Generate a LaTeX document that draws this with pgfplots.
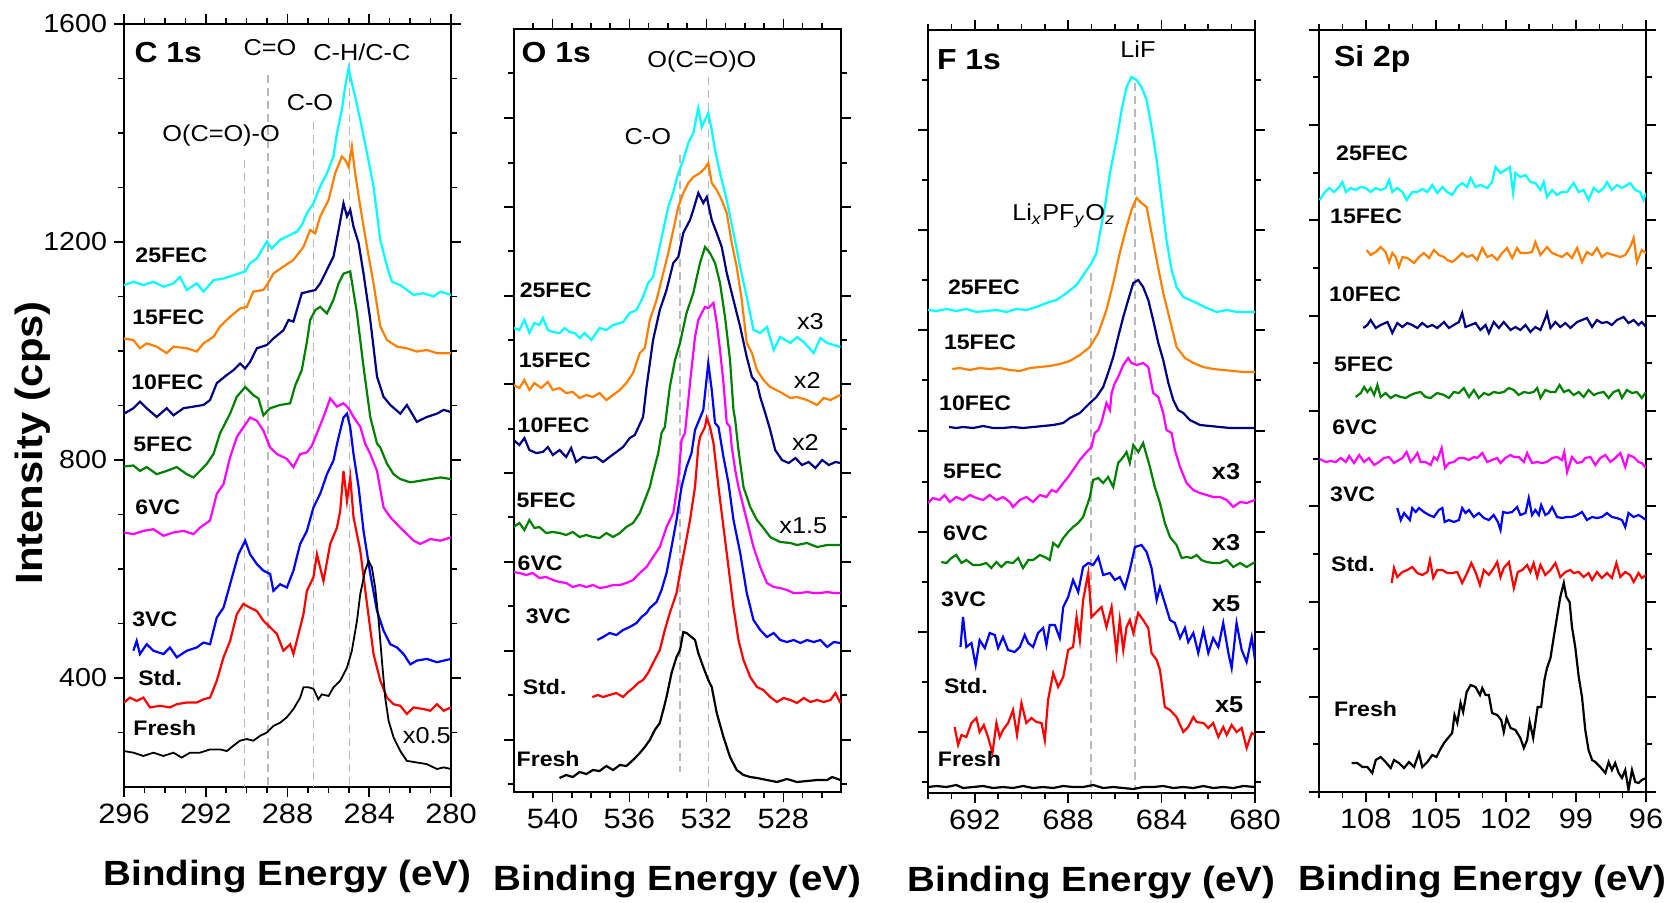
\documentclass[border=0pt]{standalone}
\usepackage{fontspec}
\setmainfont{Liberation Sans}[FakeStretch=1.1]
\usepackage{pgfplots}
\pgfplotsset{compat=1.18}

\definecolor{cCy}{RGB}{0,255,255}
\definecolor{cOr}{RGB}{255,128,0}
\definecolor{cNv}{RGB}{0,0,128}
\definecolor{cGr}{RGB}{0,128,0}
\definecolor{cMg}{RGB}{255,0,255}
\definecolor{cBl}{RGB}{0,0,255}
\definecolor{cRd}{RGB}{255,0,0}

\tikzset{
  lab/.style={font=\fontsize{10.5}{12}\selectfont\bfseries, anchor=west, inner sep=0pt},
  pk/.style={font=\fontsize{11.5}{13}\selectfont, inner sep=0pt},
  pkb/.style={font=\fontsize{11.5}{13}\selectfont\bfseries, inner sep=0pt},
  ttl/.style={font=\fontsize{14.5}{16}\selectfont\bfseries, anchor=west, inner sep=0pt},
  dl/.style={gray!55, line width=0.7pt, dash pattern=on 4pt off 2.5pt},
}

\pgfplotsset{
  xps/.style={
    scale only axis, width=163.5pt, height=381.5pt,
    anchor=south west,
    x dir=reverse,
    axis line style={line width=0.9pt},
    tick align=outside, tick pos=both,
    major tick length=5pt, minor tick length=3pt,
    every tick/.style={black, line width=0.8pt},
    /pgf/number format/assume math mode=true,
    /pgf/number format/1000 sep={},
    xticklabel style={font=\fontsize{14}{16}\selectfont},
    yticklabel style={font=\fontsize{13}{15}\selectfont},
    xlabel={Binding Energy (eV)},
    xlabel style={font=\fontsize{17.5}{20}\selectfont\bfseries, at={(axis description cs:0.5,-0.117)}, anchor=center},
    every axis plot/.append style={line width=1.1pt, mark=none},
  },
  nolab/.style={yticklabels={}},
}

\begin{document}
\begin{tikzpicture}
\path[use as bounding box] (0,0) rectangle (839.5pt,451pt);

% ---------------- C 1s ----------------
\begin{axis}[xps, at={(62pt,57.5pt)},
  xmin=280, xmax=296, ymin=200, ymax=1600,
  xtick={296,292,288,284,280}, minor x tick num=3,
  ytick={400,800,1200,1600}, minor ytick={300,500,600,700,900,1000,1100,1300,1400,1500},
  ylabel={Intensity (cps)},
  ylabel style={font=\fontsize{19}{22}\selectfont\bfseries, at={(axis description cs:-0.278,0.451)}, anchor=center},
]
\addplot[dl] coordinates {(290.1,1351) (290.1,200)};
\addplot[dl] coordinates {(288.96,1507) (288.96,200)};
\addplot[dl] coordinates {(286.73,1421) (286.73,200)};
\addplot[dl] coordinates {(284.98,1530) (284.98,200)};
% 25FEC
\addplot[cCy] coordinates {(296.00,1121)(295.54,1127)(295.05,1121)(294.56,1127)(294.07,1118)(293.58,1124)(293.26,1136)(292.93,1112)(292.44,1124)(292.11,1109)(291.62,1130)(291.13,1133)(290.64,1139)(290.07,1146)(289.83,1161)(289.50,1170)(289.01,1201)(288.77,1188)(288.36,1204)(287.87,1213)(287.54,1219)(287.30,1231)(287.05,1253)(286.73,1271)(286.40,1302)(286.07,1326)(285.75,1357)(285.58,1400)(285.34,1442)(285.18,1485)(285.01,1519)(284.85,1491)(284.69,1467)(284.44,1424)(284.11,1363)(283.79,1302)(283.46,1204)(283.13,1155)(282.89,1127)(282.48,1121)(281.83,1103)(281.34,1106)(280.85,1100)(280.52,1109)(280.00,1103)};
% 15FEC
\addplot[cOr] coordinates {(296.00,1023)(295.54,1020)(295.22,1005)(294.89,1014)(294.40,1008)(293.91,996)(293.58,1008)(292.93,1005)(292.44,999)(292.11,1014)(291.62,1026)(291.30,1045)(290.81,1063)(290.32,1078)(289.99,1081)(289.67,1109)(289.18,1112)(289.01,1121)(288.69,1142)(288.20,1155)(287.71,1167)(287.22,1191)(286.89,1222)(286.64,1216)(286.40,1247)(285.99,1277)(285.67,1326)(285.34,1357)(285.18,1351)(285.01,1338)(284.85,1375)(284.69,1326)(284.44,1265)(284.11,1191)(283.79,1124)(283.46,1045)(283.13,1020)(282.64,1008)(282.16,1005)(281.67,999)(281.18,1002)(280.69,996)(280.00,996)};
% 10FEC
\addplot[cNv] coordinates {(296.00,885)(295.54,895)(295.22,907)(294.89,895)(294.40,879)(293.91,895)(293.58,882)(293.09,895)(292.60,898)(292.11,901)(291.79,910)(291.46,941)(290.97,956)(290.64,965)(290.32,977)(290.07,968)(289.83,980)(289.50,1005)(289.01,1011)(288.69,1023)(288.20,1038)(287.95,1057)(287.71,1054)(287.30,1106)(286.97,1109)(286.64,1112)(286.40,1124)(286.07,1149)(285.75,1173)(285.50,1222)(285.26,1271)(285.09,1247)(284.93,1259)(284.77,1228)(284.52,1198)(284.28,1142)(283.95,1057)(283.62,953)(283.30,916)(282.97,901)(282.48,885)(282.16,901)(281.67,870)(281.18,879)(280.69,885)(280.36,892)(280.00,888)};
% 5FEC
\addplot[cGr] coordinates {(296.00,788)(295.54,790)(295.22,780)(294.89,787)(294.40,774)(293.91,780)(293.42,787)(292.93,774)(292.60,768)(292.28,780)(291.95,793)(291.62,811)(291.30,849)(290.81,885)(290.48,916)(290.07,934)(289.67,919)(289.42,913)(289.18,882)(288.85,895)(288.36,901)(287.87,904)(287.62,937)(287.30,965)(287.05,1017)(286.89,1057)(286.64,1075)(286.40,1081)(286.07,1069)(285.75,1094)(285.50,1124)(285.26,1142)(284.93,1146)(284.60,1069)(284.28,971)(283.95,879)(283.62,830)(283.46,823)(283.13,793)(282.81,774)(282.48,765)(281.99,759)(281.50,762)(281.01,765)(280.52,768)(280.00,765)};
% 6VC
\addplot[cMg] coordinates {(296.00,667)(295.54,664)(295.05,670)(294.56,673)(294.07,661)(293.58,667)(293.09,670)(292.60,664)(292.28,676)(291.79,689)(291.46,738)(291.13,756)(290.81,805)(290.48,842)(290.16,860)(289.83,878)(289.50,872)(289.18,854)(288.85,823)(288.52,811)(288.03,802)(287.71,787)(287.38,811)(287.05,814)(286.81,826)(286.56,849)(286.24,879)(285.91,913)(285.58,898)(285.26,904)(285.01,895)(284.77,879)(284.44,861)(284.20,830)(283.95,811)(283.62,780)(283.30,713)(282.97,695)(282.64,682)(282.32,670)(281.83,652)(281.50,646)(281.01,655)(280.52,652)(280.00,658)};
% 3VC
\addplot[cBl] coordinates {(295.54,450)(295.38,468)(295.22,444)(294.89,462)(294.56,450)(294.07,444)(293.75,456)(293.42,438)(292.93,450)(292.44,456)(292.11,465)(291.79,462)(291.46,511)(291.13,529)(290.81,572)(290.40,627)(290.07,652)(289.83,627)(289.50,609)(289.18,597)(288.85,591)(288.69,560)(288.36,572)(288.03,566)(287.71,597)(287.38,646)(287.05,670)(286.73,713)(286.40,738)(286.07,774)(285.75,799)(285.58,829)(285.42,854)(285.26,878)(285.09,885)(284.93,860)(284.77,811)(284.52,750)(284.28,670)(283.95,591)(283.62,523)(283.30,487)(282.97,462)(282.64,456)(282.32,444)(281.99,425)(281.67,432)(281.18,435)(280.69,429)(280.00,435)};
% Std.
\addplot[cRd] coordinates {(296.00,355)(295.71,364)(295.38,358)(295.05,364)(294.73,346)(294.24,349)(293.75,346)(293.42,352)(292.93,355)(292.44,355)(292.11,361)(291.79,364)(291.46,395)(291.13,438)(290.81,468)(290.48,517)(290.16,536)(289.83,529)(289.50,523)(289.18,505)(288.85,493)(288.52,481)(288.20,450)(287.87,462)(287.71,444)(287.38,493)(287.22,517)(287.05,560)(286.73,585)(286.56,627)(286.24,578)(285.91,646)(285.58,676)(285.42,707)(285.26,780)(285.09,725)(284.93,768)(284.77,695)(284.44,634)(284.11,536)(283.79,444)(283.46,395)(283.13,364)(282.81,352)(282.48,349)(282.16,334)(281.83,346)(281.34,343)(281.01,340)(280.69,352)(280.36,340)(280.00,346)};
% Fresh
\addplot[black, line width=0.9pt] coordinates {(296.00,266)(295.54,263)(295.05,257)(294.56,263)(294.07,257)(293.58,263)(293.18,254)(292.77,263)(292.28,263)(291.79,269)(291.30,269)(290.97,266)(290.64,276)(290.32,285)(289.99,288)(289.67,285)(289.34,294)(289.01,300)(288.69,312)(288.36,318)(288.03,328)(287.71,343)(287.38,364)(287.22,383)(286.97,383)(286.73,380)(286.49,361)(286.32,370)(285.99,367)(285.75,383)(285.42,395)(285.09,419)(284.85,450)(284.60,505)(284.44,554)(284.20,597)(284.03,615)(283.87,603)(283.71,566)(283.54,505)(283.38,432)(283.22,364)(283.05,321)(282.81,291)(282.48,266)(282.16,248)(281.67,245)(281.18,242)(280.69,233)(280.36,236)(280.00,233)};
\node[ttl] at (axis cs:295.5,1547) {C 1s};
\node[pk] at (axis cs:288.86,1556) {C=O};
\node[pk] at (axis cs:284.36,1549) {C-H/C-C};
\node[pk] at (axis cs:286.90,1455) {C-O};
\node[pk] at (axis cs:291.25,1396) {O(C=O)-O};
\node[lab] at (axis cs:295.46,1176) {25FEC};
\node[lab] at (axis cs:295.61,1061) {15FEC};
\node[lab] at (axis cs:295.66,943) {10FEC};
\node[lab] at (axis cs:295.56,829) {5FEC};
\node[lab] at (axis cs:295.46,714) {6VC};
\node[lab] at (axis cs:295.61,508) {3VC};
\node[lab] at (axis cs:295.32,400) {Std.};
\node[lab] at (axis cs:295.56,308) {Fresh};
\node[pk] at (axis cs:281.18,295) {x0.5};
\end{axis}

% ---------------- O 1s ----------------
\begin{axis}[xps, nolab, at={(257pt,55pt)},
  xmin=525, xmax=542, ymin=0, ymax=763,
  xtick={540,536,532,528}, minor xtick={526,527,529,530,531,533,534,535,537,538,539,541},
  ytick={52,141,230,319,408,496,585,674}, minor ytick={8,97,186,275,363,452,541,629,719},
]
\addplot[dl] coordinates {(533.37,637) (533.37,20)};
\addplot[dl] coordinates {(531.90,715) (531.90,5)};
\addplot[cCy] coordinates {(542.02,464)(541.72,462)(541.46,472)(541.20,459)(540.94,469)(540.68,467)(540.50,474)(540.24,462)(539.98,460)(539.63,459)(539.37,464)(539.11,460)(538.85,459)(538.59,454)(538.33,459)(537.98,452)(537.55,464)(537.20,462)(536.85,467)(536.33,470)(535.98,479)(535.63,482)(535.29,495)(535.03,509)(534.77,515)(534.50,539)(534.24,562)(533.98,585)(533.72,600)(533.46,619)(533.20,632)(532.94,649)(532.68,659)(532.42,684)(532.24,665)(532.07,672)(531.90,679)(531.72,662)(531.55,642)(531.29,619)(530.94,592)(530.59,559)(530.24,525)(529.90,495)(529.55,462)(529.20,459)(528.85,465)(528.50,442)(528.16,455)(527.63,449)(527.29,455)(526.94,450)(526.42,439)(526.07,454)(525.72,449)(525.37,447)(525.03,445)};
\addplot[cOr] coordinates {(542.02,407)(541.72,404)(541.46,412)(541.20,402)(540.94,409)(540.59,404)(540.24,410)(539.98,402)(539.63,404)(539.29,399)(538.94,400)(538.59,394)(538.24,397)(537.90,395)(537.55,399)(537.20,392)(536.85,397)(536.50,402)(536.16,409)(535.81,419)(535.46,439)(535.20,444)(534.94,472)(534.59,492)(534.24,519)(533.98,539)(533.72,562)(533.46,585)(533.20,599)(532.94,609)(532.68,615)(532.33,619)(532.07,624)(531.90,629)(531.72,609)(531.46,602)(531.20,592)(530.94,579)(530.68,549)(530.42,525)(530.16,492)(529.90,449)(529.63,439)(529.37,422)(529.03,412)(528.68,405)(528.16,400)(527.63,394)(527.29,395)(526.77,392)(526.24,387)(525.90,394)(525.55,392)(525.03,397)};
\addplot[cNv] coordinates {(542.02,352)(541.72,347)(541.46,354)(541.20,342)(540.85,339)(540.50,340)(540.24,345)(539.98,337)(539.63,342)(539.29,335)(539.03,344)(538.77,330)(538.42,335)(538.07,334)(537.72,335)(537.37,330)(537.03,335)(536.68,340)(536.33,345)(535.98,354)(535.72,357)(535.29,375)(535.11,405)(534.77,452)(534.42,482)(534.07,502)(533.72,529)(533.46,535)(533.20,559)(532.85,572)(532.68,582)(532.42,599)(532.16,589)(531.98,595)(531.72,572)(531.46,559)(531.20,545)(530.94,519)(530.59,492)(530.24,465)(529.90,435)(529.63,415)(529.37,409)(529.20,395)(528.94,379)(528.68,362)(528.42,342)(528.07,332)(527.72,329)(527.37,334)(527.03,327)(526.68,330)(526.33,324)(525.98,332)(525.63,327)(525.29,330)(525.03,329)};
\addplot[cGr] coordinates {(542.02,265)(541.72,269)(541.46,262)(541.20,272)(540.94,264)(540.68,265)(540.33,259)(539.98,260)(539.63,259)(539.29,257)(538.94,260)(538.59,255)(538.24,257)(537.90,255)(537.55,254)(537.20,259)(536.85,255)(536.50,259)(536.16,265)(535.81,269)(535.46,279)(535.20,292)(534.94,305)(534.77,319)(534.50,339)(534.33,359)(534.16,365)(533.90,405)(533.63,432)(533.37,449)(533.03,479)(532.68,499)(532.33,529)(532.07,545)(531.81,539)(531.55,529)(531.29,509)(531.03,475)(530.77,432)(530.59,382)(530.50,372)(530.33,342)(530.07,305)(529.72,285)(529.37,272)(529.03,264)(528.68,255)(528.16,250)(527.63,249)(527.29,247)(526.77,249)(526.24,245)(525.72,247)(525.03,247)};
\addplot[cMg] coordinates {(542.02,220)(541.72,219)(541.37,217)(541.03,219)(540.68,214)(540.33,215)(539.98,212)(539.63,210)(539.29,209)(538.94,205)(538.59,207)(538.24,205)(537.90,207)(537.55,204)(537.20,205)(536.85,207)(536.50,207)(536.16,209)(535.81,212)(535.46,219)(535.11,225)(534.77,235)(534.42,245)(534.07,265)(533.72,279)(533.46,312)(533.29,352)(533.11,359)(532.85,409)(532.59,455)(532.42,472)(532.24,479)(532.07,485)(531.90,484)(531.63,489)(531.46,469)(531.29,442)(531.11,409)(530.94,369)(530.77,365)(530.68,345)(530.50,322)(530.33,305)(530.16,292)(529.90,272)(529.55,245)(529.20,225)(528.85,209)(528.50,205)(528.16,204)(527.81,202)(527.46,199)(527.11,199)(526.77,200)(526.42,199)(526.07,199)(525.72,200)(525.37,199)(525.03,199)};
\addplot[cBl] coordinates {(537.67,152)(537.37,155)(537.03,159)(536.68,157)(536.33,162)(535.98,165)(535.63,169)(535.37,175)(535.11,179)(534.94,184)(534.59,190)(534.33,202)(534.07,219)(533.81,245)(533.55,272)(533.29,305)(533.03,325)(532.77,339)(532.59,362)(532.16,382)(531.90,429)(531.72,402)(531.55,369)(531.37,365)(531.11,335)(530.85,309)(530.59,272)(530.24,239)(529.90,199)(529.55,172)(529.20,162)(528.85,155)(528.50,159)(528.16,152)(527.81,150)(527.46,152)(527.11,149)(526.77,152)(526.42,150)(526.07,152)(525.72,145)(525.37,150)(525.03,149)};
\addplot[cRd] coordinates {(537.93,95)(537.63,97)(537.37,95)(537.03,97)(536.68,99)(536.33,95)(536.07,100)(535.81,104)(535.55,109)(535.29,112)(535.03,119)(534.77,129)(534.42,142)(534.16,162)(533.90,179)(533.55,199)(533.37,219)(533.11,245)(532.85,272)(532.59,305)(532.42,345)(532.33,355)(532.07,365)(531.98,374)(531.81,365)(531.63,349)(531.37,305)(531.11,265)(530.85,225)(530.59,185)(530.33,152)(530.07,132)(529.72,115)(529.37,105)(529.03,102)(528.68,95)(528.33,90)(527.98,94)(527.63,92)(527.29,89)(526.94,94)(526.59,90)(526.24,92)(525.90,90)(525.55,92)(525.29,99)(525.03,89)};
\addplot[black] coordinates {(539.63,14)(539.29,17)(538.94,15)(538.59,20)(538.24,18)(537.90,22)(537.55,21)(537.20,26)(536.85,22)(536.50,27)(536.16,26)(535.81,32)(535.46,39)(535.20,45)(534.94,52)(534.68,62)(534.42,69)(534.24,82)(534.07,95)(533.81,119)(533.55,135)(533.37,142)(533.20,160)(533.03,159)(532.77,155)(532.59,152)(532.42,139)(532.16,125)(531.90,112)(531.72,105)(531.46,79)(531.11,55)(530.77,35)(530.42,22)(530.07,17)(529.72,15)(529.37,14)(528.85,12)(528.33,10)(527.81,13)(527.29,10)(526.77,11)(526.24,12)(525.72,12)(525.46,15)(525.03,12)};
\node[ttl] at (axis cs:541.62,739) {O 1s};
\node[pk] at (axis cs:532.23,730) {O(C=O)O};
\node[pk] at (axis cs:535.04,655) {C-O};
\node[lab] at (axis cs:541.72,502) {25FEC};
\node[lab] at (axis cs:541.77,432) {15FEC};
\node[lab] at (axis cs:541.83,367) {10FEC};
\node[lab] at (axis cs:541.88,292) {5FEC};
\node[lab] at (axis cs:541.83,229) {6VC};
\node[lab] at (axis cs:541.41,176) {3VC};
\node[lab] at (axis cs:541.56,105) {Std.};
\node[lab] at (axis cs:541.88,33) {Fresh};
\node[pk] at (axis cs:526.59,470) {x3};
\node[pk] at (axis cs:526.75,412) {x2};
\node[pk] at (axis cs:526.85,350) {x2};
\node[pk] at (axis cs:526.96,266) {x1.5};
\end{axis}

% ---------------- F 1s ----------------
\begin{axis}[xps, nolab, at={(464pt,54.5pt)},
  xmin=680, xmax=694, ymin=0, ymax=763,
  xtick={692,688,684,680}, minor xtick={681,682,683,685,686,687,689,690,691,693,694},
  ytick={61,161,261,362,463,563,663}, minor ytick={11,111,211,311,413,513,613,713},
]
\addplot[dl] coordinates {(687.03,520) (687.03,3)};
\addplot[dl] coordinates {(685.14,710) (685.14,3)};
\addplot[cCy] coordinates {(694.00,483)(693.64,482)(693.21,484)(692.79,482)(692.36,484)(691.93,481)(691.50,482)(691.07,483)(690.64,481)(690.21,484)(689.79,483)(689.36,486)(688.93,490)(688.50,493)(688.07,500)(687.64,508)(687.29,520)(687.00,530)(686.79,540)(686.64,560)(686.43,586)(686.21,620)(685.93,653)(685.71,683)(685.50,706)(685.29,716)(685.07,713)(684.86,706)(684.64,693)(684.43,666)(684.21,633)(684.00,593)(683.79,553)(683.57,523)(683.36,506)(683.07,496)(682.79,493)(682.50,490)(682.07,485)(681.64,481)(681.21,483)(680.79,481)(680.36,481)(680.00,481)};
\addplot[cOr] coordinates {(692.96,424)(692.64,425)(692.21,423)(691.79,425)(691.36,424)(690.93,425)(690.50,423)(690.07,422)(689.64,425)(689.21,426)(688.79,427)(688.36,429)(687.93,432)(687.50,438)(687.07,446)(686.71,460)(686.36,483)(686.07,510)(685.79,540)(685.50,566)(685.29,583)(685.07,595)(684.86,590)(684.64,586)(684.43,560)(684.21,533)(683.93,500)(683.64,473)(683.36,446)(683.00,435)(682.64,430)(682.21,426)(681.79,424)(681.36,423)(680.93,422)(680.50,421)(680.00,421)};
\addplot[cNv] coordinates {(693.10,366)(692.79,365)(692.50,366)(692.07,365)(691.64,367)(691.21,365)(690.79,365)(690.36,366)(689.93,365)(689.50,366)(689.07,367)(688.64,368)(688.21,370)(687.93,375)(687.50,380)(687.07,390)(686.79,396)(686.50,406)(686.29,420)(686.07,436)(685.86,456)(685.64,476)(685.43,493)(685.21,510)(685.00,513)(684.79,506)(684.57,493)(684.36,473)(684.14,450)(683.93,433)(683.71,410)(683.50,393)(683.29,383)(683.07,380)(682.79,373)(682.36,368)(681.93,367)(681.50,366)(681.07,365)(680.64,365)(680.00,365)};
\addplot[cMg] coordinates {(694.00,290)(693.79,295)(693.50,293)(693.29,298)(693.07,291)(692.79,296)(692.50,293)(692.21,298)(691.93,295)(691.64,293)(691.36,298)(691.07,293)(690.79,296)(690.50,291)(690.36,286)(690.07,293)(689.79,296)(689.50,291)(689.21,298)(688.93,296)(688.71,303)(688.50,301)(688.21,310)(688.00,316)(687.79,323)(687.50,333)(687.21,341)(687.00,346)(686.86,360)(686.71,363)(686.57,371)(686.36,390)(686.21,383)(686.14,400)(686.00,410)(685.86,416)(685.64,428)(685.43,435)(685.29,430)(685.07,428)(684.79,430)(684.57,426)(684.36,400)(684.14,396)(683.93,380)(683.79,363)(683.57,360)(683.43,343)(683.21,326)(682.93,310)(682.64,303)(682.36,300)(682.07,298)(681.79,296)(681.50,296)(681.21,293)(680.93,286)(680.64,291)(680.36,290)(680.00,293)};
\addplot[cGr] coordinates {(693.43,231)(693.21,230)(693.00,235)(692.79,238)(692.57,230)(692.36,233)(692.07,228)(691.79,228)(691.50,230)(691.29,225)(691.07,231)(690.86,226)(690.64,231)(690.36,230)(690.14,235)(689.93,225)(689.71,233)(689.50,233)(689.21,238)(689.00,236)(688.79,233)(688.64,250)(688.43,246)(688.21,255)(688.00,261)(687.79,266)(687.57,270)(687.36,276)(687.07,296)(686.93,313)(686.71,315)(686.50,310)(686.29,316)(686.07,306)(685.86,330)(685.64,336)(685.50,341)(685.36,330)(685.21,348)(685.00,341)(684.79,350)(684.50,326)(684.29,306)(684.07,290)(683.86,270)(683.64,256)(683.36,248)(683.14,235)(682.93,236)(682.71,235)(682.50,238)(682.29,233)(682.07,231)(681.79,230)(681.50,230)(681.21,233)(680.93,226)(680.64,230)(680.36,226)(680.00,231)};
\addplot[cBl] coordinates {(692.61,146)(692.50,176)(692.36,146)(692.14,150)(691.96,128)(691.79,153)(691.57,145)(691.36,160)(691.14,158)(691.00,145)(690.79,156)(690.57,143)(690.29,141)(690.07,146)(689.86,158)(689.71,150)(689.50,146)(689.29,160)(689.07,165)(688.93,148)(688.79,168)(688.57,168)(688.36,155)(688.21,186)(688.00,196)(687.79,213)(687.57,201)(687.36,226)(687.14,230)(686.93,228)(686.71,236)(686.50,218)(686.21,220)(686.00,213)(685.79,216)(685.57,205)(685.36,223)(685.14,246)(684.86,248)(684.64,241)(684.43,225)(684.21,193)(684.07,206)(683.86,190)(683.64,173)(683.43,170)(683.21,155)(683.00,165)(682.86,151)(682.64,160)(682.43,140)(682.21,163)(682.00,140)(681.79,155)(681.57,146)(681.36,170)(681.14,140)(681.00,125)(680.79,170)(680.57,143)(680.36,131)(680.14,156)(680.00,133)};
\addplot[cRd] coordinates {(692.86,66)(692.71,48)(692.57,58)(692.36,56)(692.14,70)(691.93,75)(691.79,61)(691.61,68)(691.43,56)(691.24,40)(691.07,70)(690.93,56)(690.79,63)(690.57,70)(690.36,83)(690.19,58)(690.00,90)(689.79,70)(689.57,75)(689.36,71)(689.14,70)(689.00,53)(688.86,93)(688.64,120)(688.43,106)(688.21,116)(688.00,143)(687.79,146)(687.64,176)(687.50,153)(687.36,193)(687.14,220)(687.00,176)(686.79,181)(686.57,186)(686.36,166)(686.14,186)(685.93,140)(685.79,173)(685.64,143)(685.50,166)(685.36,173)(685.21,160)(685.00,180)(684.79,173)(684.57,165)(684.43,140)(684.21,133)(684.07,123)(683.86,86)(683.64,83)(683.36,76)(683.07,61)(682.86,66)(682.64,76)(682.50,71)(682.21,70)(682.00,65)(681.79,70)(681.57,56)(681.36,66)(681.21,58)(681.00,68)(680.79,61)(680.57,65)(680.36,45)(680.14,60)(680.00,58)};
\addplot[black] coordinates {(694.00,6)(693.64,7)(693.21,6)(692.79,8)(692.50,5)(692.07,6)(691.64,7)(691.21,5)(690.79,6)(690.36,5)(689.93,7)(689.50,5)(689.07,6)(688.64,5)(688.21,7)(687.79,6)(687.36,6)(686.93,8)(686.50,5)(686.07,6)(685.64,5)(685.21,4)(684.79,6)(684.36,6)(683.93,7)(683.50,5)(683.07,6)(682.64,5)(682.21,7)(681.79,5)(681.36,6)(680.93,5)(680.50,7)(680.00,6)};
\node[ttl] at (axis cs:693.63,733) {F 1s};
\node[pk] at (axis cs:685.01,744) {LiF};
\node[pk, anchor=west] at (axis cs:690.41,577) {Li\textsubscript{\textit{x}}PF\textsubscript{\textit{y}}O\textsubscript{\textit{z}}};
\node[lab] at (axis cs:693.16,506) {25FEC};
\node[lab] at (axis cs:693.33,451) {15FEC};
\node[lab] at (axis cs:693.54,390) {10FEC};
\node[lab] at (axis cs:693.37,322) {5FEC};
\node[lab] at (axis cs:693.37,260) {6VC};
\node[lab] at (axis cs:693.46,194) {3VC};
\node[lab] at (axis cs:693.33,107) {Std.};
\node[lab] at (axis cs:693.59,34) {Fresh};
\node[pkb] at (axis cs:681.24,321) {x3};
\node[pkb] at (axis cs:681.24,250) {x3};
\node[pkb] at (axis cs:681.24,189) {x5};
\node[pkb] at (axis cs:681.11,88) {x5};
\end{axis}

% ---------------- Si 2p ----------------
\begin{axis}[xps, nolab, at={(659.5pt,55pt)}, height=381pt,
  xmin=96, xmax=110, ymin=0, ymax=762,
  xtick={108,105,102,99,96}, minor xtick={97,98,100,101,103,104,106,107,109,110},
  ytick={0,95,190,286,381,476,572,667,762}, minor ytick={48,143,238,333,429,524,619,715},
]
\addplot[cCy] coordinates {(109.97,592)(109.78,599)(109.57,604)(109.35,600)(109.14,605)(109.00,610)(108.85,600)(108.64,604)(108.43,602)(108.21,605)(108.00,604)(107.79,600)(107.57,604)(107.36,602)(107.15,604)(107.00,612)(106.86,600)(106.65,604)(106.43,600)(106.25,592)(106.01,600)(105.79,600)(105.58,603)(105.36,600)(105.15,607)(104.94,599)(104.72,605)(104.51,600)(104.30,597)(104.08,605)(103.87,609)(103.66,605)(103.51,614)(103.30,605)(103.09,607)(102.80,604)(102.59,610)(102.44,625)(102.23,619)(102.02,622)(101.83,625)(101.69,599)(101.59,619)(101.38,615)(101.16,617)(100.95,610)(100.74,609)(100.52,602)(100.38,610)(100.24,595)(100.02,602)(99.81,597)(99.60,600)(99.38,600)(99.10,609)(98.88,600)(98.67,602)(98.46,592)(98.24,604)(98.03,600)(97.81,604)(97.67,610)(97.46,602)(97.25,607)(97.03,604)(96.82,607)(96.68,609)(96.46,602)(96.25,600)(96.11,592)(96.00,599)};
\addplot[cOr] coordinates {(107.96,542)(107.79,537)(107.57,540)(107.36,545)(107.15,540)(107.00,530)(106.86,539)(106.72,535)(106.58,525)(106.43,535)(106.22,534)(105.93,529)(105.72,535)(105.51,539)(105.29,534)(105.08,542)(104.87,537)(104.65,535)(104.51,532)(104.30,530)(104.08,534)(103.87,539)(103.66,535)(103.44,537)(103.23,532)(103.01,544)(102.80,535)(102.59,537)(102.37,532)(102.16,539)(101.95,544)(101.73,534)(101.52,544)(101.38,539)(101.09,539)(100.88,540)(100.74,550)(100.52,537)(100.24,545)(100.02,539)(99.81,537)(99.60,535)(99.38,539)(99.17,534)(98.95,544)(98.74,530)(98.53,540)(98.31,537)(98.10,544)(97.89,535)(97.67,539)(97.39,537)(97.10,535)(96.89,537)(96.68,545)(96.53,554)(96.39,530)(96.18,542)(96.00,539)};
\addplot[cNv] coordinates {(108.10,464)(107.93,467)(107.79,472)(107.57,464)(107.36,467)(107.07,470)(106.86,459)(106.65,469)(106.43,465)(106.22,469)(106.01,467)(105.79,464)(105.58,469)(105.36,465)(105.15,467)(104.94,464)(104.65,470)(104.44,464)(104.23,467)(104.01,470)(103.87,479)(103.73,465)(103.51,467)(103.30,469)(103.09,462)(102.87,467)(102.73,459)(102.52,470)(102.30,464)(102.09,470)(101.80,462)(101.59,465)(101.38,462)(101.16,467)(100.95,460)(100.74,465)(100.52,462)(100.31,474)(100.24,479)(100.09,464)(99.88,470)(99.67,465)(99.45,469)(99.24,464)(98.95,470)(98.74,472)(98.53,474)(98.31,465)(98.10,472)(97.89,469)(97.67,470)(97.46,467)(97.25,472)(96.96,475)(96.75,469)(96.53,472)(96.32,467)(96.18,470)(96.00,465)};
\addplot[cGr] coordinates {(108.43,395)(108.21,399)(108.07,405)(107.93,400)(107.79,404)(107.64,397)(107.50,407)(107.36,395)(107.15,399)(106.93,394)(106.72,397)(106.50,395)(106.29,394)(106.08,397)(105.86,399)(105.65,400)(105.44,395)(105.22,394)(104.94,399)(104.65,397)(104.44,394)(104.23,400)(104.01,399)(103.80,404)(103.58,395)(103.37,402)(103.16,394)(102.94,399)(102.73,397)(102.52,400)(102.30,399)(102.09,400)(101.87,404)(101.66,402)(101.45,397)(101.23,400)(101.02,399)(100.81,400)(100.66,404)(100.52,394)(100.31,402)(100.09,400)(99.88,400)(99.70,407)(99.52,400)(99.31,402)(99.10,397)(98.88,400)(98.67,395)(98.46,402)(98.24,397)(98.03,399)(97.81,400)(97.60,394)(97.39,400)(97.17,402)(97.03,394)(96.82,402)(96.60,399)(96.39,400)(96.18,394)(96.00,400)};
\addplot[cMg] coordinates {(109.97,333)(109.71,330)(109.50,331)(109.28,330)(109.07,334)(108.85,330)(108.71,336)(108.50,329)(108.28,337)(108.07,330)(107.86,334)(107.64,327)(107.43,330)(107.22,334)(107.00,335)(106.79,329)(106.58,332)(106.43,334)(106.25,340)(106.08,330)(105.93,334)(105.79,339)(105.65,330)(105.44,330)(105.22,327)(105.08,335)(104.94,332)(104.75,344)(104.61,324)(104.44,329)(104.23,330)(104.01,334)(103.80,334)(103.58,332)(103.37,335)(103.23,334)(103.01,339)(102.80,330)(102.59,332)(102.37,334)(102.23,329)(102.02,334)(101.80,337)(101.66,335)(101.45,335)(101.23,330)(101.09,339)(100.88,329)(100.66,330)(100.45,329)(100.24,330)(100.02,334)(99.81,335)(99.60,332)(99.50,340)(99.38,320)(99.17,335)(98.95,329)(98.74,330)(98.60,334)(98.38,335)(98.17,327)(97.96,334)(97.74,337)(97.53,330)(97.32,334)(97.10,339)(96.89,325)(96.75,337)(96.53,335)(96.32,330)(96.18,329)(96.00,324)};
\addplot[cBl] coordinates {(106.65,284)(106.50,272)(106.36,279)(106.22,275)(106.11,272)(106.01,284)(105.86,280)(105.72,284)(105.51,280)(105.29,277)(105.08,275)(104.87,282)(104.72,284)(104.62,270)(104.44,272)(104.23,270)(104.01,272)(103.87,284)(103.73,279)(103.58,282)(103.37,275)(103.16,279)(102.94,274)(102.73,272)(102.52,277)(102.34,270)(102.23,262)(102.12,280)(101.95,279)(101.73,280)(101.52,285)(101.38,277)(101.16,279)(101.02,294)(100.88,277)(100.74,282)(100.59,277)(100.49,287)(100.31,277)(100.17,279)(100.02,285)(99.81,275)(99.60,274)(99.38,275)(99.17,275)(98.95,277)(98.74,280)(98.53,272)(98.31,275)(98.10,274)(97.89,275)(97.67,279)(97.46,275)(97.25,274)(97.03,272)(96.89,265)(96.75,279)(96.53,275)(96.32,277)(96.18,275)(96.00,272)};
\addplot[cRd] coordinates {(106.89,209)(106.79,224)(106.65,215)(106.43,220)(106.22,222)(106.01,225)(105.79,219)(105.58,217)(105.36,220)(105.25,232)(105.11,214)(104.94,222)(104.72,222)(104.51,219)(104.30,219)(104.08,220)(103.87,209)(103.66,219)(103.48,229)(103.30,220)(103.11,207)(102.94,222)(102.73,217)(102.52,224)(102.37,230)(102.23,215)(102.09,224)(101.87,230)(101.66,204)(101.49,220)(101.30,222)(101.09,227)(100.95,220)(100.81,229)(100.66,215)(100.52,227)(100.31,217)(100.09,222)(99.88,229)(99.67,215)(99.45,220)(99.24,222)(99.10,219)(98.88,220)(98.67,215)(98.46,219)(98.31,212)(98.10,220)(97.89,214)(97.67,219)(97.46,214)(97.27,229)(97.10,215)(96.89,220)(96.68,217)(96.53,210)(96.32,219)(96.18,214)(96.00,217)};
\addplot[black] coordinates {(108.60,29)(108.36,29)(108.14,25)(107.93,25)(107.72,19)(107.57,32)(107.36,35)(107.15,30)(106.93,24)(106.79,32)(106.58,29)(106.36,24)(106.15,30)(105.93,25)(105.72,39)(105.58,25)(105.36,30)(105.15,37)(104.97,35)(104.82,42)(104.65,49)(104.44,55)(104.30,59)(104.20,77)(104.08,69)(103.94,89)(103.83,80)(103.68,100)(103.51,107)(103.30,105)(103.11,97)(103.01,104)(102.87,97)(102.73,97)(102.59,79)(102.37,77)(102.20,72)(102.09,60)(101.97,74)(101.80,64)(101.59,62)(101.38,54)(101.23,44)(101.09,52)(100.98,70)(100.83,54)(100.64,85)(100.49,85)(100.35,112)(100.24,124)(100.09,134)(99.95,155)(99.81,175)(99.67,195)(99.52,209)(99.41,195)(99.27,190)(99.17,165)(99.03,145)(98.88,115)(98.74,95)(98.60,62)(98.46,42)(98.31,32)(98.17,30)(97.96,25)(97.74,19)(97.60,30)(97.46,22)(97.32,29)(97.17,19)(97.03,14)(96.89,22)(96.75,2)(96.60,22)(96.46,10)(96.32,9)(96.18,12)(96.00,14)};
\node[ttl] at (axis cs:109.37,733) {Si 2p};
\node[lab] at (axis cs:109.28,639) {25FEC};
\node[lab] at (axis cs:109.54,576) {15FEC};
\node[lab] at (axis cs:109.58,498) {10FEC};
\node[lab] at (axis cs:109.37,428) {5FEC};
\node[lab] at (axis cs:109.45,365) {6VC};
\node[lab] at (axis cs:109.54,298) {3VC};
\node[lab] at (axis cs:109.50,228) {Std.};
\node[lab] at (axis cs:109.37,83) {Fresh};
\end{axis}
\end{tikzpicture}
\end{document}
